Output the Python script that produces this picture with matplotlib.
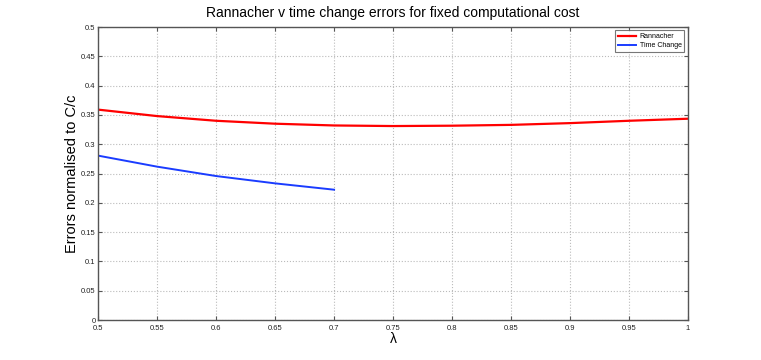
import matplotlib
matplotlib.use("Agg")
import matplotlib.pyplot as plt
import numpy as np

lam_r = [0.5, 0.55, 0.6, 0.65, 0.7, 0.75, 0.8, 0.85, 0.9, 0.95, 1.0]
err_r = [0.359, 0.348, 0.340, 0.335, 0.332, 0.331, 0.3316, 0.333, 0.336, 0.340, 0.3435]
lam_t = [0.5, 0.55, 0.6, 0.65, 0.7]
err_t = [0.2805, 0.2617, 0.2457, 0.2332, 0.2224]
xticks = [0.5, 0.55, 0.6, 0.65, 0.7, 0.75, 0.8, 0.85, 0.9, 0.95, 1.0]
xticklabels = ["0.5", "0.55", "0.6", "0.65", "0.7", "0.75", "0.8", "0.85", "0.9", "0.95", "1"]
yticks = [0, 0.05, 0.1, 0.15, 0.2, 0.25, 0.3, 0.35, 0.4, 0.45, 0.5]
yticklabels = ["0", "0.05", "0.1", "0.15", "0.2", "0.25", "0.3", "0.35", "0.4", "0.45", "0.5"]

plt.rcParams['font.family'] = ['Liberation Sans', 'DejaVu Sans']
fig = plt.figure(figsize=(7.61, 3.6), dpi=100)
ax = fig.add_axes([0.129, 0.111, 0.775, 0.814])
ax.plot(lam_r, err_r, color='#ff0000', lw=1.6, label='Rannacher')
ax.plot(lam_t, err_t, color='#1a3cff', lw=1.4, label='Time Change')
ax.set_xlim(0.5, 1.0)
ax.set_ylim(0, 0.5)
ax.set_xticks(xticks)
ax.set_xticklabels(xticklabels)
ax.set_yticks(yticks)
ax.set_yticklabels(yticklabels)
ax.tick_params(direction='in', length=3, labelsize=5.5, top=True, right=True, colors='#555555', labelcolor='#222222', pad=2)
ax.tick_params(axis='x', pad=3.5)
ax.grid(True, linestyle=':', color='#bbbbbb', lw=0.8)
for s in ax.spines.values():
    s.set_color('#555555')
    s.set_linewidth(1.0)
ax.set_title('Rannacher v time change errors for fixed computational cost', fontsize=10, pad=7)
ax.set_xlabel('λ', fontsize=10, labelpad=0)
ax.set_ylabel('Errors normalised to C/c', fontsize=10.5, labelpad=1)
leg = ax.legend(loc='upper right', fontsize=5, frameon=True, fancybox=False, handlelength=2.6, handletextpad=0.5, borderpad=0.4, labelspacing=0.3)
leg.get_frame().set_edgecolor('#555555')
leg.get_frame().set_linewidth(0.8)
fig.savefig('out.png', dpi=100)
